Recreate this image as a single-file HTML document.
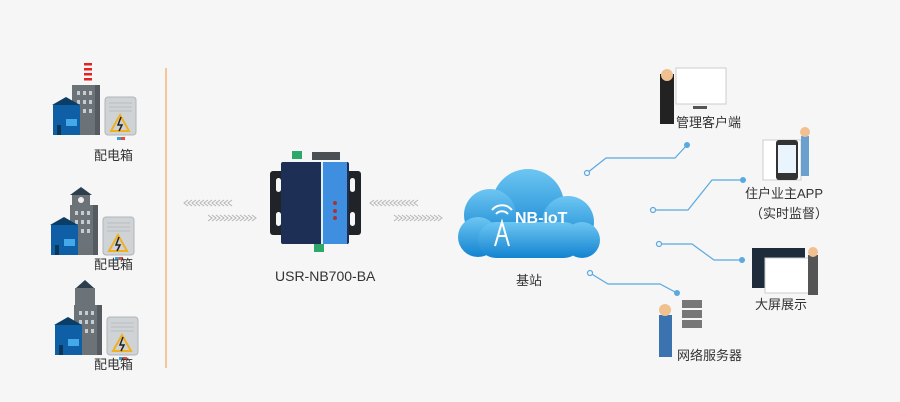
<!DOCTYPE html>
<html><head><meta charset="utf-8"><style>
body{margin:0;width:900px;height:402px;background:#f6f6f6;overflow:hidden;position:relative;font-family:"Liberation Sans","Noto Sans CJK SC",sans-serif;color:#333}
.t{position:absolute;font-size:13px;white-space:nowrap}
</style></head><body>
<svg width="900" height="402" style="position:absolute;left:0;top:0">
<line x1="166" y1="68" x2="166" y2="368" stroke="#f2a65a" stroke-width="1.2"/>
<defs>
<g id="grp">
<rect x="20" y="0" width="28" height="50" fill="#6c7378"/>
<rect x="43" y="0" width="5" height="50" fill="#555b60"/>
<g fill="#c8ccd0"><rect x="25" y="6" width="3" height="4"/><rect x="31" y="6" width="3" height="4"/><rect x="37" y="6" width="3" height="4"/><rect x="25" y="15" width="3" height="4"/><rect x="31" y="15" width="3" height="4"/><rect x="37" y="15" width="3" height="4"/><rect x="25" y="24" width="3" height="4"/><rect x="31" y="24" width="3" height="4"/><rect x="37" y="24" width="3" height="4"/></g>
<polygon points="0,20 14,12 28,20" fill="#0c3d66"/>
<rect x="1" y="20" width="27" height="30" fill="#0f5fa6"/>
<rect x="14" y="34" width="11" height="7" fill="#45a8e8"/>
<rect x="5" y="40" width="4" height="10" fill="#0a3658"/>
<rect x="53" y="12" width="31" height="38" rx="3" fill="#cfd3d6" stroke="#b0b5b8"/>
<g stroke="#b8bcbf"><line x1="57" y1="18" x2="80" y2="18"/><line x1="57" y1="22" x2="80" y2="22"/><line x1="57" y1="26" x2="80" y2="26"/></g>
<polygon points="68,30 77,46 59,46" fill="none" stroke="#f0b020" stroke-width="2"/>
<path d="M69,32 L66,40 L70,40 L67,46" stroke="#222" fill="none" stroke-width="1.5"/>
<rect x="65" y="52" width="4" height="3" fill="#3aa0e0"/><rect x="69" y="52" width="4" height="3" fill="#e74c3c"/>
</g>
<g id="lch" fill="none" stroke="#b5b5b5" stroke-width="1">
<path d="M4,0 L0,3 L4,6 M8,0 L4,3 L8,6 M12,0 L8,3 L12,6 M16,0 L12,3 L16,6 M20,0 L16,3 L20,6 M24,0 L20,3 L24,6 M28,0 L24,3 L28,6 M32,0 L28,3 L32,6 M36,0 L32,3 L36,6 M40,0 L36,3 L40,6 M44,0 L40,3 L44,6 M48,0 L44,3 L48,6"/>
</g>
<g id="rch" fill="none" stroke="#b5b5b5" stroke-width="1">
<path d="M0,0 L4,3 L0,6 M4,0 L8,3 L4,6 M8,0 L12,3 L8,6 M12,0 L16,3 L12,6 M16,0 L20,3 L16,6 M20,0 L24,3 L20,6 M24,0 L28,3 L24,6 M28,0 L32,3 L28,6 M32,0 L36,3 L32,6 M36,0 L40,3 L36,6 M40,0 L44,3 L40,6 M44,0 L48,3 L44,6"/>
</g>
</defs>
<g fill="#e52222"><rect x="84" y="63" width="8" height="2.5"/><rect x="84" y="68" width="8" height="2.5"/><rect x="84" y="73" width="8" height="2.5"/><rect x="84" y="78" width="8" height="2.5"/></g>
<use href="#grp" x="52" y="85"/>
<polygon points="70,195 81,187 92,195" fill="#2d3e4c"/><rect x="72" y="195" width="18" height="12" fill="#6c7378"/><circle cx="81" cy="200" r="3" fill="#eee"/>
<use href="#grp" x="50" y="205"/>
<polygon points="76,288 85,280 94,288" fill="#2d3e4c"/><rect x="75" y="288" width="20" height="20" fill="#6c7378"/>
<use href="#grp" x="54" y="305"/>
<use href="#lch" x="184" y="200"/><use href="#rch" x="208" y="215"/>
<use href="#lch" x="370" y="200"/><use href="#rch" x="394" y="215"/>
<!-- device -->
<rect x="292" y="151" width="10" height="8" fill="#2ea86a"/><rect x="312" y="152" width="28" height="8" fill="#4a4f55"/>
<rect x="270" y="171" width="18" height="64" rx="3" fill="#202428"/><rect x="344" y="171" width="17" height="64" rx="3" fill="#202428"/>
<g fill="#f6f6f6"><rect x="276" y="178" width="5" height="14" rx="2.5"/><rect x="276" y="212" width="5" height="14" rx="2.5"/><rect x="350" y="178" width="5" height="14" rx="2.5"/><rect x="350" y="212" width="5" height="14" rx="2.5"/></g>
<rect x="281" y="162" width="68" height="82" rx="2" fill="#1d2f55"/>
<rect x="321" y="162" width="26" height="82" fill="#3f8fe0"/>
<rect x="321" y="162" width="2" height="82" fill="#dfeffc"/>
<rect x="314" y="244" width="10" height="8" fill="#2ea86a"/>
<circle cx="335" cy="203" r="2" fill="#a33"/><circle cx="335" cy="211" r="2" fill="#a33"/><circle cx="335" cy="218" r="2" fill="#a33"/>
<!-- cloud -->
<defs><linearGradient id="cg" x1="0" y1="0" x2="0" y2="1"><stop offset="0" stop-color="#6cc6f2"/><stop offset="1" stop-color="#1383d0"/></linearGradient></defs>
<g fill="url(#cg)">
<circle cx="528" cy="205" r="36"/><circle cx="490" cy="215" r="26"/><circle cx="568" cy="222" r="26"/><circle cx="478" cy="237" r="20"/><circle cx="582" cy="240" r="18"/><rect x="478" y="222" width="104" height="36" rx="18"/>
</g>
<g stroke="#fff" stroke-width="2" fill="none"><path d="M495,246 L502,222 L509,246 M498,236 L506,236"/><path d="M496,214 a8,8 0 0 1 12,0 M492,210 a13,13 0 0 1 20,0"/></g>
<!-- connectors -->
<g stroke="#5aa9e0" stroke-width="1.2" fill="none">
<polyline points="587,173 606,158 675,158 687,145"/>
<polyline points="653,210 688,210 712,180 743,180"/>
<polyline points="659,244 692,244 714,260 742,260"/>
<polyline points="590,273 608,284 660,284 677,293"/>
</g>
<g fill="#f6f6f6" stroke="#5aa9e0" stroke-width="1.2"><circle cx="587" cy="173" r="2.5"/><circle cx="653" cy="210" r="2.5"/><circle cx="659" cy="244" r="2.5"/><circle cx="590" cy="273" r="2.5"/></g>
<g fill="#5aa9e0"><circle cx="687" cy="145" r="3"/><circle cx="743" cy="180" r="3"/><circle cx="742" cy="260" r="3"/><circle cx="677" cy="293" r="3"/></g>
<!-- right icons -->
<rect x="676" y="68" width="50" height="36" fill="#fff" stroke="#ccc"/><rect x="693" y="106" width="14" height="3" fill="#555"/>
<rect x="660" y="74" width="14" height="50" fill="#222"/><circle cx="667" cy="75" r="6" fill="#f0c090"/>
<rect x="763" y="140" width="38" height="40" fill="#fff" stroke="#ccc"/><rect x="776" y="140" width="22" height="40" rx="3" fill="#333"/><rect x="778" y="145" width="18" height="28" fill="#eaf4fc"/>
<rect x="801" y="136" width="8" height="40" fill="#6aa0d0"/><circle cx="805" cy="132" r="5" fill="#f0c090"/>
<rect x="752" y="248" width="53" height="40" fill="#1d2b3a"/><rect x="765" y="258" width="44" height="35" fill="#fff" stroke="#ccc"/>
<rect x="808" y="255" width="10" height="40" fill="#555"/><circle cx="813" cy="252" r="5" fill="#f0c090"/>
<rect x="682" y="300" width="20" height="8" fill="#777"/><rect x="682" y="310" width="20" height="8" fill="#777"/><rect x="682" y="320" width="20" height="8" fill="#777"/>
<rect x="659" y="315" width="13" height="42" fill="#3b72b0"/><circle cx="665" cy="310" r="6" fill="#f0c090"/>
</svg>
<div class="t" style="left:94px;top:145px">配电箱</div>
<div class="t" style="left:94px;top:254px">配电箱</div>
<div class="t" style="left:94px;top:354px">配电箱</div>
<div class="t" style="left:275px;top:268px;font-size:14px">USR-NB700-BA</div>
<div class="t" style="left:515px;top:210px;font-size:16px;color:#fff;font-weight:bold">NB-IoT</div>
<div class="t" style="left:516px;top:270px">基站</div>
<div class="t" style="left:676px;top:112px">管理客户端</div>
<div class="t" style="left:745px;top:183px">住户业主APP</div>
<div class="t" style="left:750px;top:203px">（实时监督）</div>
<div class="t" style="left:755px;top:294px">大屏展示</div>
<div class="t" style="left:677px;top:345px">网络服务器</div>
</body></html>
